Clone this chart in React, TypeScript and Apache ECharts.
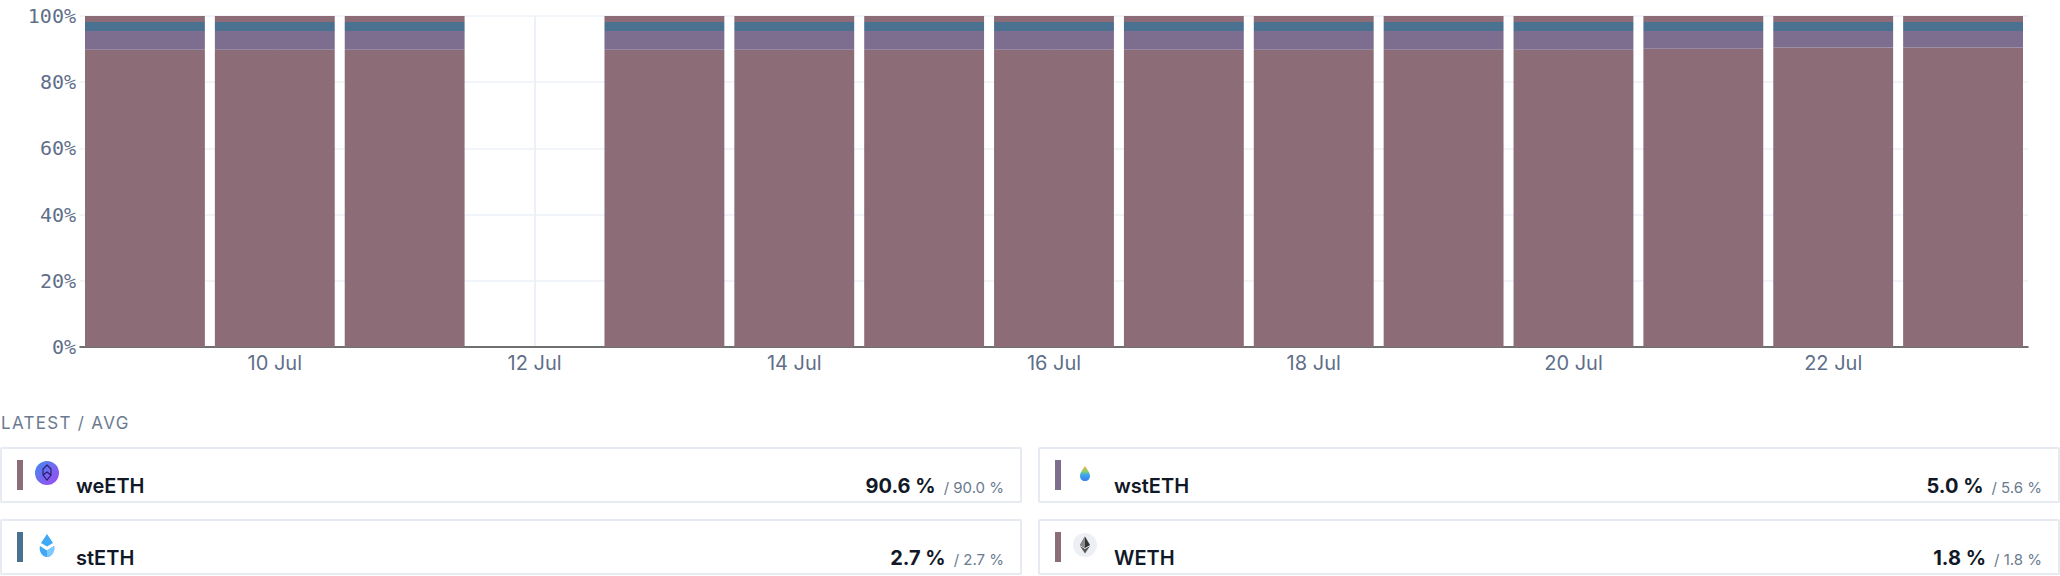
import React, { useEffect, useRef } from "react";
import * as echarts from "echarts";

const dates = ["9 Jul", "10 Jul", "11 Jul", "12 Jul", "13 Jul", "14 Jul", "15 Jul", "16 Jul", "17 Jul", "18 Jul", "19 Jul", "20 Jul", "21 Jul", "22 Jul", "23 Jul"];
const weETHShare = [89.8, 89.8, 89.8, null, 89.8, 89.8, 89.8, 89.8, 89.8, 89.8, 89.8, 89.8, 90.1, 90.5, 90.5];
const wstETHShare = [5.7, 5.7, 5.7, null, 5.7, 5.7, 5.7, 5.7, 5.7, 5.7, 5.7, 5.7, 5.4, 5.0, 5.0];
const stETHShare = [2.7, 2.7, 2.7, null, 2.7, 2.7, 2.7, 2.7, 2.7, 2.7, 2.7, 2.7, 2.7, 2.7, 2.7];
const WETHShare = [1.8, 1.8, 1.8, null, 1.8, 1.8, 1.8, 1.8, 1.8, 1.8, 1.8, 1.8, 1.8, 1.8, 1.8];

const assetNames = ["weETH", "wstETH", "stETH", "WETH"];
const assetColors = ["#8b6c77", "#7d6d8f", "#4a7190", "#8b6c77"];
const latestShare = [90.6, 5.0, 2.7, 1.8];
const averageShare = [90.0, 5.6, 2.7, 1.8];
// card order in the legend grid (row-major)
const cardOrder = ["weETH", "wstETH", "stETH", "WETH"];

const seriesData = [weETHShare, wstETHShare, stETHShare, WETHShare];

const LABEL = "#5f6f8a";
const GRID = "#edf1f7";

function Icon({ name }: { name: string }) {
  if (name === "weETH") {
    return (
      <svg width="24" height="24" viewBox="0 0 24 24">
        <defs>
          <linearGradient id="weg" x1="0" y1="0" x2="1" y2="1">
            <stop offset="0" stopColor="#3f8cf0" />
            <stop offset="1" stopColor="#a546f0" />
          </linearGradient>
        </defs>
        <circle cx="12" cy="12" r="12" fill="url(#weg)" />
        <path d="M12 4 L16 8 L16 14 L12 19 L8 14 L8 8 Z M8 14 L12 11 L16 14" fill="none" stroke="#2a1a6e" strokeWidth="1.1" />
      </svg>
    );
  }
  if (name === "wstETH") {
    return (
      <svg width="24" height="24" viewBox="0 0 24 24">
        <defs>
          <linearGradient id="wsg" x1="0" y1="0" x2="0" y2="1">
            <stop offset="0" stopColor="#f7a23b" />
            <stop offset="0.35" stopColor="#8fd16a" />
            <stop offset="0.6" stopColor="#3aa6f2" />
            <stop offset="1" stopColor="#3f7cf0" />
          </linearGradient>
        </defs>
        <path d="M12 5 C14.5 9 17 11.5 17 15 C17 18 14.8 20 12 20 C9.2 20 7 18 7 15 C7 11.5 9.5 9 12 5 Z" fill="url(#wsg)" />
      </svg>
    );
  }
  if (name === "stETH") {
    return (
      <svg width="24" height="26" viewBox="0 0 24 26">
        <path d="M12 1 L18 10 L12 13.5 L6 10 Z" fill="#3fa9f5" />
        <path d="M5 13 L12 17.5 L19 13 C20.5 17.5 17 24 12 24 C7 24 3.5 17.5 5 13 Z" fill="#3fa9f5" />
        <path d="M12 17.5 L19 13 C20.5 17.5 17 24 12 24 Z" fill="#7ccaff" />
      </svg>
    );
  }
  return (
    <svg width="24" height="24" viewBox="0 0 24 24">
      <circle cx="12" cy="12" r="12" fill="#eceff3" />
      <path d="M12 3.5 L17 12 L12 15 L7 12 Z" fill="#343434" />
      <path d="M12 16 L17 13 L12 20.5 L7 13 Z" fill="#5a5a5a" />
      <path d="M12 3.5 L12 15 L7 12 Z" fill="#8c8c8c" />
    </svg>
  );
}

function Card({ name, left, top }: { name: string; left: number; top: number }) {
  const i = assetNames.indexOf(name);
  return (
    <div>
      <div
        style={{
          position: "absolute",
          left,
          top,
          width: 1022,
          height: 56,
          boxSizing: "border-box",
          border: "2px solid #e6eaf1",
          borderRadius: 2,
          background: "#fff",
        }}
      />
      <div style={{ position: "absolute", left: left + 17, top: top + 13, width: 6, height: 30, background: assetColors[i] }} />
      <div style={{ position: "absolute", left: left + 35, top: top + 14, width: 24, height: 26 }}>
        <Icon name={name} />
      </div>
      <div
        style={{
          position: "absolute",
          left: left + 76,
          top: top + 29,
          fontSize: 20,
          lineHeight: "20px",
          fontWeight: 600,
          color: "#111827",
          whiteSpace: "nowrap",
        }}
      >
        {name}
      </div>
      <div
        style={{
          position: "absolute",
          left,
          top: top + 29,
          width: 1022 - 18,
          textAlign: "right",
          lineHeight: "20px",
          whiteSpace: "nowrap",
        }}
      >
        <span style={{ fontSize: 20, fontWeight: 700, color: "#111827" }}>{latestShare[i].toFixed(1)} %</span>
        <span style={{ fontSize: 15, color: "#6b7a90", marginLeft: 8 }}>/ {averageShare[i].toFixed(1)} %</span>
      </div>
    </div>
  );
}

export default function App() {
  const ref = useRef<HTMLDivElement>(null);

  useEffect(() => {
    if (!ref.current) return;
    const chart = echarts.init(ref.current, null, { renderer: "svg" });
    const labelEvery = (index: number) => index % 2 === 1;
    chart.setOption({
      animation: false,
      grid: { left: 80, right: 32, top: 16, height: 331, containLabel: false },
      xAxis: {
        type: "category",
        data: dates,
        boundaryGap: true,
        axisLine: { show: true, lineStyle: { color: "#444", width: 1.5 } },
        axisTick: { show: false },
        axisLabel: {
          interval: labelEvery,
          color: LABEL,
          fontSize: 20,
          fontFamily: "Inter",
          margin: 6,
        },
        splitLine: {
          show: true,
          interval: labelEvery,
          alignWithLabel: true,
          lineStyle: { color: GRID, width: 2 },
        },
      },
      yAxis: {
        type: "value",
        min: 0,
        max: 100,
        interval: 20,
        axisLine: { show: false },
        axisTick: { show: false },
        axisLabel: {
          formatter: "{value}%",
          color: LABEL,
          fontSize: 20,
          fontFamily: "DejaVu Sans Mono",
          margin: 4,
        },
        splitLine: { show: true, lineStyle: { color: GRID, width: 1.5 } },
      },
      series: assetNames.map((n, i) => ({
        name: n,
        type: "bar",
        stack: "total",
        data: seriesData[i],
        barCategoryGap: "7.7%",
        itemStyle: { color: assetColors[i] },
        emphasis: { disabled: true },
      })),
    });
    return () => chart.dispose();
  }, []);

  return (
    <div
      style={{
        position: "absolute",
        left: 0,
        top: 0,
        width: 2060,
        height: 576,
        overflow: "hidden",
        background: "#fff",
        fontFamily: "Inter, 'Noto Sans', sans-serif",
      }}
    >
      <div ref={ref} style={{ position: "absolute", left: 0, top: 0, width: 2060, height: 400 }} />
      <div
        style={{
          position: "absolute",
          left: 1,
          top: 413,
          fontSize: 17,
          lineHeight: "20px",
          letterSpacing: 1.3,
          color: "#6b7a90",
        }}
      >
        LATEST / AVG
      </div>
      <Card name={cardOrder[0]} left={0} top={447} />
      <Card name={cardOrder[1]} left={1038} top={447} />
      <Card name={cardOrder[2]} left={0} top={519} />
      <Card name={cardOrder[3]} left={1038} top={519} />
    </div>
  );
}
